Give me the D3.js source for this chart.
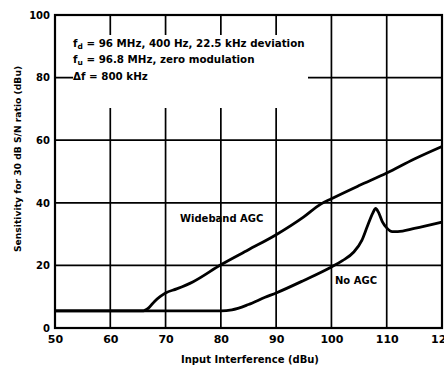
<!DOCTYPE html>
<html><head><meta charset="utf-8">
<script src="https://cdn.jsdelivr.net/npm/d3@7"></script>
<style>
body{margin:0;background:#fff;}
svg{display:block;}
text{font-family:"DejaVu Sans",sans-serif;font-weight:bold;fill:#000;}
</style></head><body>
<svg id="c" width="444" height="370"></svg>
<script>
// Data
const xTicks = [50, 60, 70, 80, 90, 100, 110, 120];
const yTicks = [0, 20, 40, 60, 80, 100];
const widebandX = [50, 66, 67, 68, 69, 70, 72, 75, 80, 85, 90, 95, 98, 100, 105, 110, 115, 120];
const widebandY = [5.5, 5.5, 6.5, 8.5, 10, 11.2, 12.5, 14.8, 20.2, 25, 29.8, 35.5, 39.5, 41.3, 45.5, 49.5, 54, 58];
const noAgcX = [50, 80, 82, 85, 88, 90, 95, 100, 102, 104, 105.5, 106.5, 107.5, 108, 108.5, 109.2, 110, 111, 112, 115, 120];
const noAgcY = [5.5, 5.5, 5.8, 7.5, 9.8, 11.2, 15.2, 19.5, 21.5, 24.2, 28, 32.5, 36.8, 38.2, 37, 34, 32, 30.8, 30.8, 31.8, 33.8];
const notes = ["= 96 MHz, 400 Hz, 22.5 kHz deviation", "= 96.8 MHz, zero modulation", "= 800 kHz"];

const svg = d3.select("#c");
const L = 55, T = 15, R = 442, B = 328;
const x = d3.scaleLinear().domain([50, 120]).range([L, R]);
const y = d3.scaleLinear().domain([0, 100]).range([B, T]);

// grid
const g = svg.append("g");
g.selectAll(".gx").data(xTicks.slice(1, -1)).join("line")
  .attr("x1", d => x(d)).attr("x2", d => x(d)).attr("y1", T).attr("y2", B)
  .attr("stroke", "#000").attr("stroke-width", 1.7);
g.selectAll(".gy").data(yTicks.slice(1, -1)).join("line")
  .attr("x1", L).attr("x2", R).attr("y1", d => y(d)).attr("y2", d => y(d))
  .attr("stroke", "#000").attr("stroke-width", 1.7);
// blank area for annotation
svg.append("rect").attr("x", 73).attr("y", 35).attr("width", 235).attr("height", 73).attr("fill", "#fff");

// frame
svg.append("rect").attr("x", L).attr("y", T).attr("width", R - L).attr("height", B - T)
  .attr("fill", "none").attr("stroke", "#000").attr("stroke-width", 2.2);

// axes labels
const xAxis = d3.axisBottom(x).tickValues(xTicks).tickSize(0).tickPadding(7);
const xa = svg.append("g").attr("transform", `translate(0,${B})`).call(xAxis);
xa.select(".domain").remove();
xa.selectAll("text").attr("font-size", 11).style("font-family", "DejaVu Sans").style("font-weight", "bold");
const yAxis = d3.axisLeft(y).tickValues(yTicks).tickSize(0).tickPadding(5);
const ya = svg.append("g").attr("transform", `translate(${L},0)`).call(yAxis);
ya.select(".domain").remove();
ya.selectAll("text").attr("font-size", 10).style("font-family", "DejaVu Sans").style("font-weight", "bold");

svg.append("text").attr("x", 250).attr("y", 363).attr("text-anchor", "middle")
  .attr("font-size", 10).text("Input Interference (dBu)");
svg.append("text").attr("transform", "translate(21,159) rotate(-90)").attr("text-anchor", "middle")
  .attr("font-size", 9.2).text("Sensitivity for 30 dB S/N ratio (dBu)");

// curves
const line = d3.line().x(d => x(d[0])).y(d => y(d[1])).curve(d3.curveMonotoneX);
svg.append("path").datum(d3.zip(widebandX, widebandY)).attr("d", line)
  .attr("fill", "none").attr("stroke", "#000").attr("stroke-width", 2.8);
svg.append("path").datum(d3.zip(noAgcX, noAgcY)).attr("d", line)
  .attr("fill", "none").attr("stroke", "#000").attr("stroke-width", 2.8);

svg.append("text").attr("x", 180).attr("y", 222).attr("font-size", 10).text("Wideband AGC");
svg.append("text").attr("x", 335).attr("y", 284).attr("font-size", 10).text("No AGC");

// annotation
const ann = svg.append("g").attr("font-size", 10.3);
const t1 = ann.append("text").attr("x", 73).attr("y", 47);
t1.append("tspan").text("f");
t1.append("tspan").attr("font-size", 7.5).attr("dy", 2).text("d");
t1.append("tspan").attr("dy", -2).text(" " + notes[0]);
const t2 = ann.append("text").attr("x", 73).attr("y", 63);
t2.append("tspan").text("f");
t2.append("tspan").attr("font-size", 7.5).attr("dy", 2).text("u");
t2.append("tspan").attr("dy", -2).text(" " + notes[1]);
ann.append("text").attr("x", 73).attr("y", 80).text("\u0394f " + notes[2]);
</script></body></html>
